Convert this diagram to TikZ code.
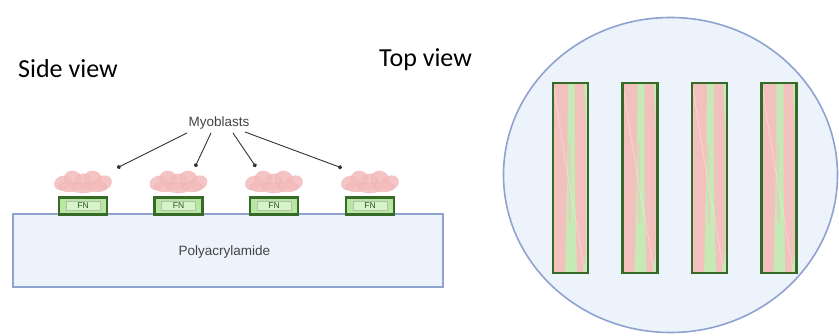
\documentclass[tikz,border=0pt]{standalone}
\usepackage{fontspec}
\setmainfont{Carlito}
\newfontfamily\labelfont{Liberation Sans}
\usetikzlibrary{arrows.meta,shapes.geometric}
\definecolor{gelfill}{HTML}{EDF3FB}
\definecolor{geledge}{HTML}{8FA2D0}
\definecolor{fngreen}{HTML}{356B26}
\definecolor{fnfill}{HTML}{B9E6A2}
\definecolor{fninner}{HTML}{D8F2CA}
\definecolor{cellpink}{HTML}{F4BCBC}
\definecolor{celledge}{HTML}{E89A9A}
\definecolor{stripepink}{HTML}{F2C1BE}
\definecolor{stripegreen}{HTML}{C6E9B6}
\definecolor{textgray}{HTML}{444444}
\tikzset{
  viewlabel/.style={font=\fontsize{26}{30}\selectfont, anchor=base west, inner sep=0pt},
  smalllabel/.style={font=\labelfont\fontsize{13.5}{16}\selectfont, text=textgray, inner sep=1pt},
  gel/.style={draw=geledge, line width=1.6pt, fill=gelfill},
  fnbox/.style={draw=fngreen, line width=2.4pt, fill=fnfill, minimum width=48pt, minimum height=17pt, inner sep=0pt},
  pointer/.style={draw=black!80, line width=0.9pt, -{Circle[length=4.2pt]}},
  stripe/.style={draw=fngreen, line width=2.2pt},
  pics/cellcluster/.style={code={
    % overlapping flattened cell bodies with a bumpy upper edge
    \foreach \dx/\dy/\rx/\ry/\a in {-20/2/9/7/20,-10/-2/9/8/-25,0/1/9/8/30,10/-2/9/8/-20,20/2/9/7/25,
                                     -14/6/10/5/0,0/7/12/5/0,14/6/10/5/0}
      \filldraw[fill=cellpink, draw=celledge, draw opacity=0.35, line width=0.4pt, fill opacity=0.85]
        (\dx,\dy) ellipse[x radius=\rx, y radius=\ry, rotate=\a];
  }}
}
\begin{document}
\begin{tikzpicture}[x=1pt, y=-1pt]
\useasboundingbox (0,0) rectangle (839,336);
\fill[white] (0,0) rectangle (839,336);

% ---- side view ----
\node[viewlabel] (side) at (18,78) {Side view};

\node[gel, minimum width=430pt, minimum height=73pt, inner sep=0pt] (gel) at (228,250.5) {};
\node[smalllabel] (pa) at (224.5,252) {Polyacrylamide};

\foreach \i/\cx in {1/83,2/178.5,3/274,4/370}{
  \pic at (\cx,181) {cellcluster};
  \node[fnbox] (fn\i) at (\cx,206) {};
  \node[fill=fninner, draw=fngreen!40, line width=0.6pt, minimum width=34pt, minimum height=9pt, inner sep=0pt,
        font=\labelfont\fontsize{8.5}{9}\selectfont, text=fngreen!80!black] (fnt\i) at (\cx,206) {FN};
}

\node[smalllabel] (myo) at (219,123) {Myoblasts};
\coordinate (s1) at (187,133);
\coordinate (s2) at (211,133);
\coordinate (s3) at (233,133);
\coordinate (s4) at (245,132);
\coordinate (e1) at (117,168);
\coordinate (e2) at (195,167);
\coordinate (e3) at (256,167);
\coordinate (e4) at (342,168);
\foreach \k in {1,...,4}
  \draw[pointer] (s\k) -- (e\k);

% ---- top view ----
\node[viewlabel] (top) at (379,67) {Top view};
\node[draw=geledge, line width=1.6pt, fill=gelfill, ellipse, minimum width=334pt, minimum height=315pt, inner sep=0pt] (dish) at (670.5,175) {};

\foreach \i/\x in {1/553,2/622.5,3/692,4/761.5}{
  \begin{scope}[shift={(\x,83)}]
    \fill[stripegreen] (0,0) rectangle (35,190);
    % aligned cells on the fibronectin strip
    \fill[stripepink] (0,0) -- (15,0) -- (14,100) -- (12,190) -- (0,190) -- cycle;
    \fill[stripepink] (22,0) -- (31,0) -- (33,40) -- (33,170) -- (30,190) -- (24,190) -- (22,100) -- cycle;
    \fill[stripepink!60!stripegreen] (15,60) -- (17,60) -- (18,140) -- (16,140) -- cycle;
    \draw[white, opacity=0.35, line width=0.7pt] (1,4) .. controls (10,70) and (24,140) .. (31,186);
  \end{scope}
  \node[stripe, minimum width=35pt, minimum height=190pt, inner sep=0pt] (strip\i) at (\x+17.5,178) {};
}
\end{tikzpicture}
\end{document}
